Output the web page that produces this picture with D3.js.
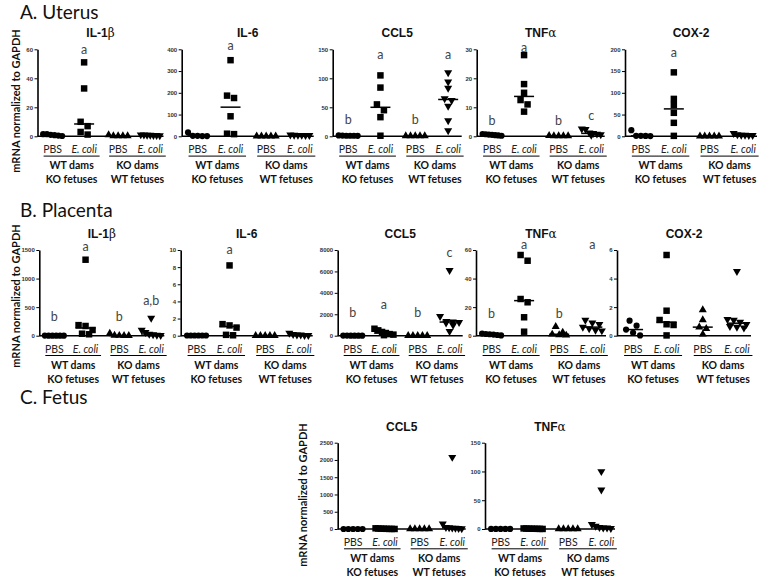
<!DOCTYPE html>
<html><head><meta charset="utf-8">
<script src="https://cdn.jsdelivr.net/npm/d3@7"></script>
<style>body{margin:0;background:#fff}</style>
</head><body><svg id="c" width="762" height="581"></svg>
<script>
// ---------- DATA ----------
const groupLabels = ["PBS", "E. coli", "PBS", "E. coli"];
const damLabels = ["WT dams", "KO dams"];
const fetusLabels = ["KO fetuses", "WT fetuses"];
const sectionTitles = ["A. Uterus", "B. Placenta", "C. Fetus"];
const yAxisTitle = "mRNA normalized to GAPDH";

// A. Uterus  (groups: PBS WT dams, E. coli WT dams, PBS KO dams, E. coli KO dams)
const uterusIL1b = [[1.5,1,0.5,0.2,0.8,1.5],[51,33,10,7,3,1.2],[1,0.3,0.2,0.2,0.2],[1,0.8,0.6,0.9,1.1,0.7,0.5]];
const uterusIL1bTicks = [0,20,40,60];
const uterusIL1bLetters = ["","a","",""];
const uterusIL1bLetterAt = [0,57,0,0];

const uterusIL6 = [[18,2,1,1,2],[350,187,176,92,12,10],[1,0.5,0.5,0.5,0.5],[6,5,4,5,7,4]];
const uterusIL6Ticks = [0,100,200,300,400];
const uterusIL6Letters = ["","a","",""];
const uterusIL6LetterAt = [0,395,0,0];

const uterusCCL5 = [[1,1.5,1,0.8,1.2,1],[105,84,55,45,33,1],[0.5,0.5,0.5,0.5,0.5],[110,94,83,65,62,52,27,10]];
const uterusCCL5Ticks = [0,50,100,150];
const uterusCCL5Letters = ["b","a","b","a"];
const uterusCCL5LetterAt = [22,133,22,133];

const uterusTNFa = [[0.8,0.5,0.3,0.6,0.4,0.2,0.7],[28,18,15,12.5,11,8.5],[0.2,0.1,0.1,0.1,0.1],[2.6,2.4,1.2,0.8,0.6,1.0,0.4]];
const uterusTNFaTicks = [0,10,20,30];
const uterusTNFaLetters = ["b","a","b","c"];
const uterusTNFaLetterAt = [3.8,28.9,3.8,5.5];

const uterusCOX2 = [[14,1,0.5,1,0.8],[147,86,72,54,31,1],[0.5,0.5,0.5,0.5,0.5],[7,4,3,2,3,2]];
const uterusCOX2Ticks = [0,50,100,150,200];
const uterusCOX2Letters = ["","a","",""];
const uterusCOX2LetterAt = [0,183,0,0];

// B. Placenta
const placentaIL1b = [[2,1,1,0.5,0.5,1],[1330,185,170,100,35,25],[40,5,3,2,1],[310,100,60,30,20,10,5]];
const placentaIL1bTicks = [0,500,1000,1500];
const placentaIL1bLetters = ["b","a","b","a,b"];
const placentaIL1bLetterAt = [266,1478,266,544];

const placentaIL6 = [[0.02,0.02,0.02,0.02,0.02,0.02],[8.2,1.35,1.2,0.95,0.1,0.05],[0.01,0.01,0.01,0.01,0.01],[0.3,0.1,0.05,0.1,0.15,0.05]];
const placentaIL6Ticks = [0,2,4,6,8,10];
const placentaIL6Letters = ["","a","",""];
const placentaIL6LetterAt = [0,9.5,0,0];

const placentaCCL5 = [[10,8,5,5,3,2],[650,500,350,250,150,100,50],[5,3,2,2,1],[6100,1800,1350,1300,1250,1200,1000,400]];
const placentaCCL5Ticks = [0,2000,4000,6000,8000];
const placentaCCL5Letters = ["b","a","b","c"];
const placentaCCL5LetterAt = [1718,2465,1718,7320];

const placentaTNFa = [[1.5,1,0.5,0.2,0.8,1.2],[56.5,52.5,25.7,23.4,12.9,2.8],[6.3,2.3,1,0.5,0.3],[11,9,8,6,5,4,3.5]];
const placentaTNFaTicks = [0,20,40,60];
const placentaTNFaLetters = ["b","a","b","a"];
const placentaTNFaLetterAt = [12.6,60.5,12.6,60.5];

const placentaCOX2 = [[1.05,0.7,0.43,0.2,0.02],[5.65,1.75,1.1,0.8,0.75,0.02],[1.8,1.1,0.6,0.5,0.1],[4.5,1.15,1.1,0.95,0.8,0.65,0.6,0.55]];
const placentaCOX2Ticks = [0,2,4,6];
const placentaCOX2Letters = ["","","",""];
const placentaCOX2LetterAt = [0,0,0,0];

// C. Fetus
const fetusCCL5 = [[1,1,1,1,1],[20,15,10,8,5,3,2,1],[1,1,1,1,1],[2080,150,50,40,30,25,20,10]];
const fetusCCL5Ticks = [0,500,1000,1500,2000,2500];
const fetusTNFa = [[0.2,0.2,0.2,0.2,0.2],[1,0.8,0.6,0.5,0.4,0.3,0.2,0.1],[0.1,0.1,0.1,0.1,0.1],[100,68,8,5,3,2,2,1]];
const fetusTNFaTicks = [0,50,100,150];
const noLetters = ["","","",""];
const noLetterAt = [0,0,0,0];

// ---------- LAYOUT ----------
const rows = [
  {top:49.3, zero:136.3, title:sectionTitles[0], titleY:18.5, labelX:16, labelY:101,
   panels:[
    {x:37.5, w:126, name:["IL-1","β"], data:uterusIL1b, ticks:uterusIL1bTicks, letters:uterusIL1bLetters, at:uterusIL1bLetterAt},
    {x:181.7,w:132, name:["IL-6",""], data:uterusIL6, ticks:uterusIL6Ticks, letters:uterusIL6Letters, at:uterusIL6LetterAt},
    {x:332.7,w:129, name:["CCL5",""], data:uterusCCL5, ticks:uterusCCL5Ticks, letters:uterusCCL5Letters, at:uterusCCL5LetterAt},
    {x:476.7,w:128, name:["TNF","α"], data:uterusTNFa, ticks:uterusTNFaTicks, letters:uterusTNFaLetters, at:uterusTNFaLetterAt},
    {x:625,  w:132, name:["COX-2",""], data:uterusCOX2, ticks:uterusCOX2Ticks, letters:uterusCOX2Letters, at:uterusCOX2LetterAt}
   ]},
  {top:250, zero:335.7, title:sectionTitles[1], titleY:216.5, labelX:16, labelY:296,
   panels:[
    {x:39.3, w:125, name:["IL-1","β"], data:placentaIL1b, ticks:placentaIL1bTicks, letters:placentaIL1bLetters, at:placentaIL1bLetterAt},
    {x:180.7,w:132, name:["IL-6",""], data:placentaIL6, ticks:placentaIL6Ticks, letters:placentaIL6Letters, at:placentaIL6LetterAt},
    {x:337.7,w:125, name:["CCL5",""], data:placentaCCL5, ticks:placentaCCL5Ticks, letters:placentaCCL5Letters, at:placentaCCL5LetterAt},
    {x:476,  w:130, name:["TNF","α"], data:placentaTNFa, ticks:placentaTNFaTicks, letters:placentaTNFaLetters, at:placentaTNFaLetterAt},
    {x:617,  w:134, name:["COX-2",""], data:placentaCOX2, ticks:placentaCOX2Ticks, letters:placentaCOX2Letters, at:placentaCOX2LetterAt}
   ]},
  {top:442.7, zero:529, title:sectionTitles[2], titleY:404, labelX:303.5, labelY:495,
   panels:[
    {x:337.7,w:128, name:["CCL5",""], data:fetusCCL5, ticks:fetusCCL5Ticks, letters:noLetters, at:noLetterAt},
    {x:485,  w:130, name:["TNF","α"], data:fetusTNFa, ticks:fetusTNFaTicks, letters:noLetters, at:noLetterAt}
   ]}
];

const groupFrac = [0.12, 0.37, 0.64, 0.895];
const symbols = [
  {type:d3.symbolCircle, size:30, rot:0},
  {type:d3.symbolSquare, size:42, rot:0},
  {type:d3.symbolTriangle, size:28, rot:0},
  {type:d3.symbolTriangle, size:28, rot:180}
];
const CAL = "Lato, 'Open Sans', sans-serif";
const ARIAL = "'Liberation Sans', Arial, sans-serif";

const svg = d3.select("#c");

// row-binned scatter layout (points with close pixel heights share a row, spread symmetrically)
function swarm(values, y, cx) {
  const DY = 6, MAXW = 19, SP = 7;
  const pts = values.map(v => ({v, py: y(v)})).sort((a, b) => a.py - b.py);
  let i = 0;
  while (i < pts.length) {
    const start = pts[i].py;
    let j = i;
    while (j < pts.length && pts[j].py - start < DY) j++;
    const n = j - i;
    const sp = n > 1 ? Math.min(SP, MAXW / (n - 1)) : 0;
    for (let k = 0; k < n; k++) pts[i + k].px = cx + (k - (n - 1) / 2) * sp;
    i = j;
  }
  return pts;
}

rows.forEach(row => {
  svg.append("text").attr("x", 20).attr("y", row.titleY)
    .style("font-family", CAL).style("font-size", "19px").attr("fill", "#111").text(row.title);
  svg.append("text")
    .attr("transform", `translate(${row.labelX},${row.labelY}) rotate(-90)`)
    .attr("text-anchor", "middle").attr("dy", "0.35em")
    .style("font-family", CAL).style("font-size", "11px").style("font-weight", "bold")
    .attr("fill", "#111").text(yAxisTitle);

  row.panels.forEach(p => {
    const g = svg.append("g");
    const y = d3.scaleLinear().domain([0, d3.max(p.ticks)]).range([row.zero, row.top]);
    const cxs = groupFrac.map(f => p.x + f * p.w);

    // title
    const t = g.append("text").attr("x", p.x + p.w / 2).attr("y", row.top - 12)
      .attr("text-anchor", "middle").style("font-family", ARIAL).style("font-size", "12px")
      .style("font-weight", "bold").attr("fill", "#111");
    t.append("tspan").text(p.name[0]);
    if (p.name[1]) t.append("tspan").text(p.name[1]).style("font-family", "'DejaVu Serif', serif")
      .style("font-weight", "normal").style("font-size", "12px");

    // y axis
    const ax = g.append("g").attr("transform", `translate(${p.x},0)`)
      .call(d3.axisLeft(y).tickValues(p.ticks).tickSize(3).tickSizeOuter(0).tickPadding(1.5).tickFormat(d3.format("d")));
    ax.select(".domain").attr("stroke", "#000").attr("stroke-width", 1.6);
    ax.selectAll(".tick line").attr("stroke", "#000").attr("stroke-width", 1);
    ax.selectAll(".tick text").style("font-family", ARIAL).style("font-size", "6px")
      .style("font-weight", "bold").attr("fill", "#333");

    // x axis baseline
    g.append("line").attr("x1", p.x).attr("x2", p.x + p.w).attr("y1", y(0)).attr("y2", y(0))
      .attr("stroke", "#000").attr("stroke-width", 1.6);

    // points and medians
    p.data.forEach((vals, gi) => {
      const pts = swarm(vals, y, cxs[gi]);
      const sym = symbols[gi];
      g.selectAll(null).data(pts).enter().append("path")
        .attr("d", d3.symbol().type(sym.type).size(sym.size))
        .attr("transform", d => `translate(${d.px},${d.py}) rotate(${sym.rot})`)
        .attr("fill", "#000");
      const med = d3.median(vals);
      g.append("line").attr("x1", cxs[gi] - 10).attr("x2", cxs[gi] + 10)
        .attr("y1", y(med)).attr("y2", y(med)).attr("stroke", "#000").attr("stroke-width", 1.5);
      if (p.letters[gi]) {
        g.append("text").attr("x", cxs[gi]).attr("y", y(p.at[gi])).attr("text-anchor", "middle")
          .style("font-family", CAL).style("font-size", "12.5px").attr("fill", "#444").text(p.letters[gi]);
      }
      g.append("text").attr("x", cxs[gi]).attr("y", row.zero + 17).attr("text-anchor", "middle")
        .style("font-family", CAL).style("font-size", "10.5px")
        .style("font-style", gi % 2 ? "italic" : "normal").attr("fill", "#222").text(groupLabels[gi]);
    });

    // underline + dam / fetus labels
    [0, 1].forEach(k => {
      const x1 = cxs[2 * k] - 9, x2 = cxs[2 * k + 1] + 15.5;
      g.append("line").attr("x1", x1).attr("x2", x2).attr("y1", row.zero + 19.8).attr("y2", row.zero + 19.8)
        .attr("stroke", "#000").attr("stroke-width", 1);
      g.append("text").attr("x", (x1 + x2) / 2).attr("y", row.zero + 33).attr("text-anchor", "middle")
        .style("font-family", CAL).style("font-size", "10.5px").style("font-weight", "bold")
        .attr("fill", "#111").text(damLabels[k]);
      g.append("text").attr("x", (x1 + x2) / 2).attr("y", row.zero + 47).attr("text-anchor", "middle")
        .style("font-family", CAL).style("font-size", "10.5px").style("font-weight", "bold")
        .attr("fill", "#111").text(fetusLabels[k]);
    });
  });
});
</script>
</body></html>
